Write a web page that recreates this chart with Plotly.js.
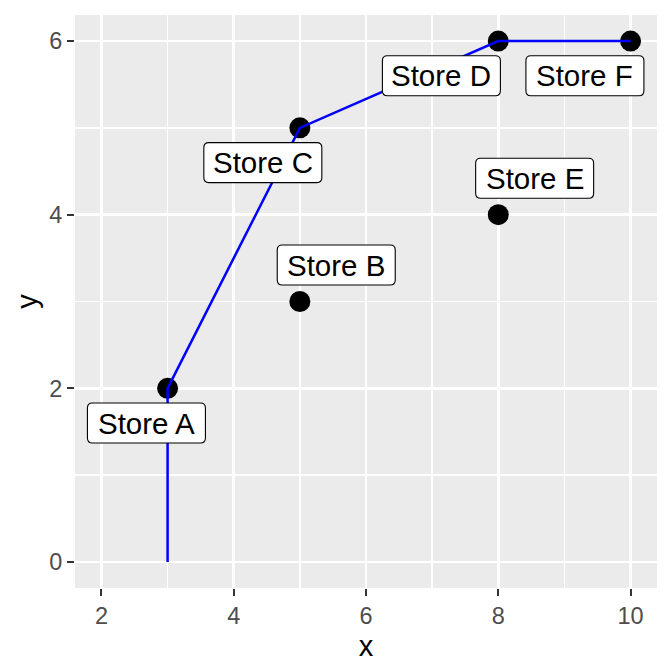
<!DOCTYPE html>
<html>
<head>
<meta charset="utf-8">
<script src="https://cdn.plot.ly/plotly-3.0.1.min.js"></script>
<style>html,body{margin:0;padding:0;background:#fff;}#chart{width:672px;height:672px;}</style>
</head>
<body>
<div id="chart"></div>
<script>
// Store points
var storeNames = ["Store A", "Store B", "Store C", "Store D", "Store E", "Store F"];
var storeX = [3, 5, 5, 8, 8, 10];
var storeY = [2, 3, 5, 6, 4, 6];
// Frontier line
var frontierX = [3, 3, 5, 8, 10];
var frontierY = [0, 2, 5, 6, 6];
// Label positions (repelled)
var labelX = [2.68, 5.55, 4.44, 7.14, 8.55, 9.31];
var labelY = [1.60, 3.42, 4.60, 5.60, 4.42, 5.60];
// Ticks
var xTicks = [2, 4, 6, 8, 10];
var yTicks = [0, 2, 4, 6];

var FONT = "Liberation Sans, Arial, Helvetica, sans-serif";

var traces = [
  {x: storeX, y: storeY, mode: "markers", type: "scatter",
   marker: {color: "black", size: 21}, hoverinfo: "skip", showlegend: false},
  {x: frontierX, y: frontierY, mode: "lines", type: "scatter",
   line: {color: "#0000FF", width: 2.5}, hoverinfo: "skip", showlegend: false}
];

function roundRect(w, h, r) {
  var a = w / 2, b = h / 2;
  return "M " + (-a + r) + "," + (-b) + " L " + (a - r) + "," + (-b) +
    " Q " + a + "," + (-b) + " " + a + "," + (-b + r) +
    " L " + a + "," + (b - r) + " Q " + a + "," + b + " " + (a - r) + "," + b +
    " L " + (-a + r) + "," + b + " Q " + (-a) + "," + b + " " + (-a) + "," + (b - r) +
    " L " + (-a) + "," + (-b + r) + " Q " + (-a) + "," + (-b) + " " + (-a + r) + "," + (-b) + " Z";
}

var shapes = [], annotations = [];
for (var i = 0; i < storeNames.length; i++) {
  shapes.push({
    type: "path", xref: "x", yref: "y",
    xsizemode: "pixel", ysizemode: "pixel",
    xanchor: labelX[i], yanchor: labelY[i],
    path: roundRect(118, 40, 5),
    fillcolor: "white", line: {color: "black", width: 1.1}, layer: "above"
  });
  annotations.push({
    x: labelX[i], y: labelY[i], xref: "x", yref: "y",
    text: storeNames[i], showarrow: false,
    font: {family: FONT, size: 29.5, color: "black"},
    xanchor: "center", yanchor: "middle"
  });
}

var axisCommon = {
  showgrid: true, gridcolor: "white", gridwidth: 2.6,
  zeroline: false, showline: false,
  ticks: "outside", ticklen: 7, tickwidth: 2, tickcolor: "#333333",
  tickfont: {family: FONT, size: 23.5, color: "#4D4D4D"},
  automargin: false
};

var layout = {
  width: 672, height: 672,
  margin: {l: 75, r: 15, t: 15, b: 84},
  paper_bgcolor: "white", plot_bgcolor: "#EBEBEB",
  showlegend: false,
  xaxis: Object.assign({}, axisCommon, {
    range: [1.6, 10.4], tickmode: "array", tickvals: xTicks,
    minor: {dtick: 1, tick0: 0, showgrid: true, gridcolor: "white", gridwidth: 1.3, ticks: ""},
    title: {text: "x", font: {family: FONT, size: 29, color: "black"}, standoff: 7}
  }),
  yaxis: Object.assign({}, axisCommon, {
    range: [-0.3, 6.3], tickmode: "array", tickvals: yTicks,
    minor: {dtick: 1, tick0: 0, showgrid: true, gridcolor: "white", gridwidth: 1.3, ticks: ""},
    title: {text: "y", font: {family: FONT, size: 29, color: "black"}, standoff: 3}
  }),
  shapes: shapes,
  annotations: annotations
};

Plotly.newPlot("chart", traces, layout, {staticPlot: true, displayModeBar: false});
</script>
</body>
</html>
